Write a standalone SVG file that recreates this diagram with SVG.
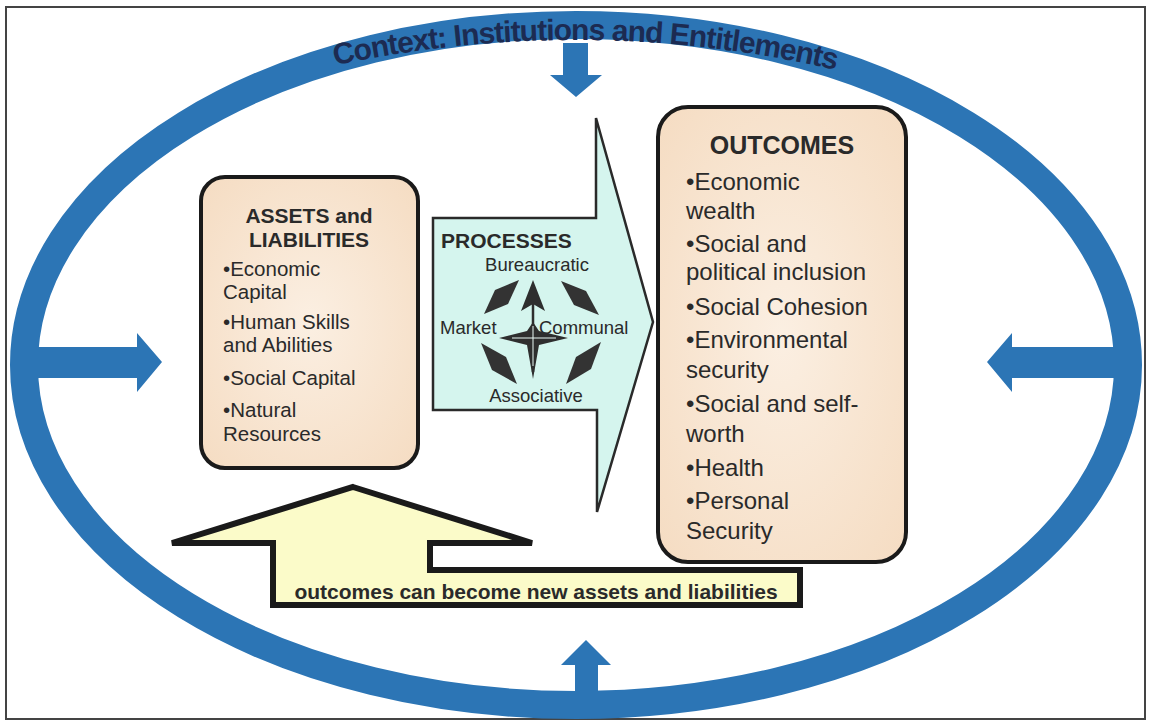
<svg xmlns="http://www.w3.org/2000/svg" width="1149" height="721" viewBox="0 0 1149 721">
<style>
.t{font-family:"Liberation Sans",Arial,sans-serif;fill:#2a2a2a}
.b{font-weight:bold}
.blue{fill:#2c75b5}
.box{stroke:#1a1a1a;stroke-width:4}
.kite{fill:#333}
</style>
<defs>
<radialGradient id="peach" cx="50%" cy="50%" r="70%">
<stop offset="0" stop-color="#fbefe2"/>
<stop offset="1" stop-color="#f5dcc2"/>
</radialGradient>
<path id="arc" d="M 300 73.4 A 1150 1150 0 0 1 870 78.5"/>
</defs>
<rect x="0" y="0" width="1149" height="721" fill="#fff"/>
<rect x="6" y="7" width="1139" height="712" fill="none" stroke="#444" stroke-width="2"/>

<g id="context">
<ellipse cx="576" cy="365" rx="552" ry="340" fill="none" stroke="#2c75b5" stroke-width="28"/>
</g>

<g id="connectors">
<polygon class="blue" points="563,43 588,43 588,75 602,75 576,97 550,75 563,75"/>
<polygon class="blue" points="38,347 137,347 137,333 162,362 137,392 137,378 38,378"/>
<polygon class="blue" points="1114,347 1012,347 1012,333 987,362 1012,392 1012,378 1114,378"/>
<polygon class="blue" points="575,692 575,665 561,665 586,640 611,665 598,665 598,692"/>
<polygon fill="#fbfbc9" stroke="#1a1a1a" stroke-width="6" stroke-linejoin="miter" points="353,487 532,543 430,543 430,570 800,570 800,605 273,605 273,543 172,543"/>
<text class="t b" x="536" y="599" font-size="21" text-anchor="middle">outcomes can become new assets and liabilities</text>
</g>

<g id="context-label">
<text class="t b" font-size="30" letter-spacing="-1" style="fill:#1c2b52"><textPath href="#arc" startOffset="50%" text-anchor="middle">Context: Institutions and Entitlements</textPath></text>
</g>

<g id="assets">
<rect class="box" x="201" y="177" width="217" height="291" rx="24" fill="url(#peach)"/>
<text class="t b" x="309" y="223" font-size="21" text-anchor="middle">ASSETS and</text>
<text class="t b" x="309" y="247" font-size="21" text-anchor="middle">LIABILITIES</text>
<text class="t" font-size="20.5">
<tspan x="223" y="276">•Economic</tspan>
<tspan x="223" y="299">Capital</tspan>
<tspan x="223" y="329">•Human Skills</tspan>
<tspan x="223" y="352">and Abilities</tspan>
<tspan x="223" y="385">•Social Capital</tspan>
<tspan x="223" y="417">•Natural</tspan>
<tspan x="223" y="441">Resources</tspan>
</text>
</g>

<g id="processes">
<polygon fill="#d5f5ee" stroke="#2a2a2a" stroke-width="2.5" stroke-linejoin="miter" points="433,218 596,218 596,118 653,322 597,512 597,410 433,410"/>
<text class="t b" x="441" y="248" font-size="21">PROCESSES</text>
<text class="t" x="537" y="271" font-size="18.5" text-anchor="middle">Bureaucratic</text>
<text class="t" x="440" y="334" font-size="18.5">Market</text>
<text class="t" x="539" y="334" font-size="18.5">Communal</text>
<text class="t" x="536" y="402" font-size="18.5" text-anchor="middle">Associative</text>
<polygon class="kite" points="484,314 495,290 519,280 508,304"/>
<polygon class="kite" points="561,281 586,291 599,315 574,305"/>
<polygon class="kite" points="481,343 506,357 517,384 492,370"/>
<polygon class="kite" points="601,342 591,369 566,384 576,357"/>
<polygon fill="#2e2e2e" points="499,338 527,331 533,322 539,331 568,338 539,345 533,379 527,345"/>
<line x1="533" y1="372" x2="533" y2="300" stroke="#2e2e2e" stroke-width="2.5"/>
<polygon fill="#2e2e2e" points="533,280 545,311 533,304 521,311"/>
<line x1="512" y1="338" x2="556" y2="338" stroke="#e8f8f4" stroke-width="1"/>
<line x1="533" y1="326" x2="533" y2="366" stroke="#e8f8f4" stroke-width="1"/>
</g>

<g id="outcomes">
<rect class="box" x="658" y="107" width="248" height="455" rx="30" fill="url(#peach)"/>
<text class="t b" x="782" y="154" font-size="25" text-anchor="middle">OUTCOMES</text>
<text class="t" font-size="24">
<tspan x="686" y="190">•Economic</tspan>
<tspan x="686" y="219">wealth</tspan>
<tspan x="686" y="252">•Social and</tspan>
<tspan x="686" y="280">political inclusion</tspan>
<tspan x="686" y="315">•Social Cohesion</tspan>
<tspan x="686" y="348">•Environmental</tspan>
<tspan x="686" y="378">security</tspan>
<tspan x="686" y="412">•Social and self-</tspan>
<tspan x="686" y="442">worth</tspan>
<tspan x="686" y="476">•Health</tspan>
<tspan x="686" y="509">•Personal</tspan>
<tspan x="686" y="539">Security</tspan>
</text>
</g>
</svg>
